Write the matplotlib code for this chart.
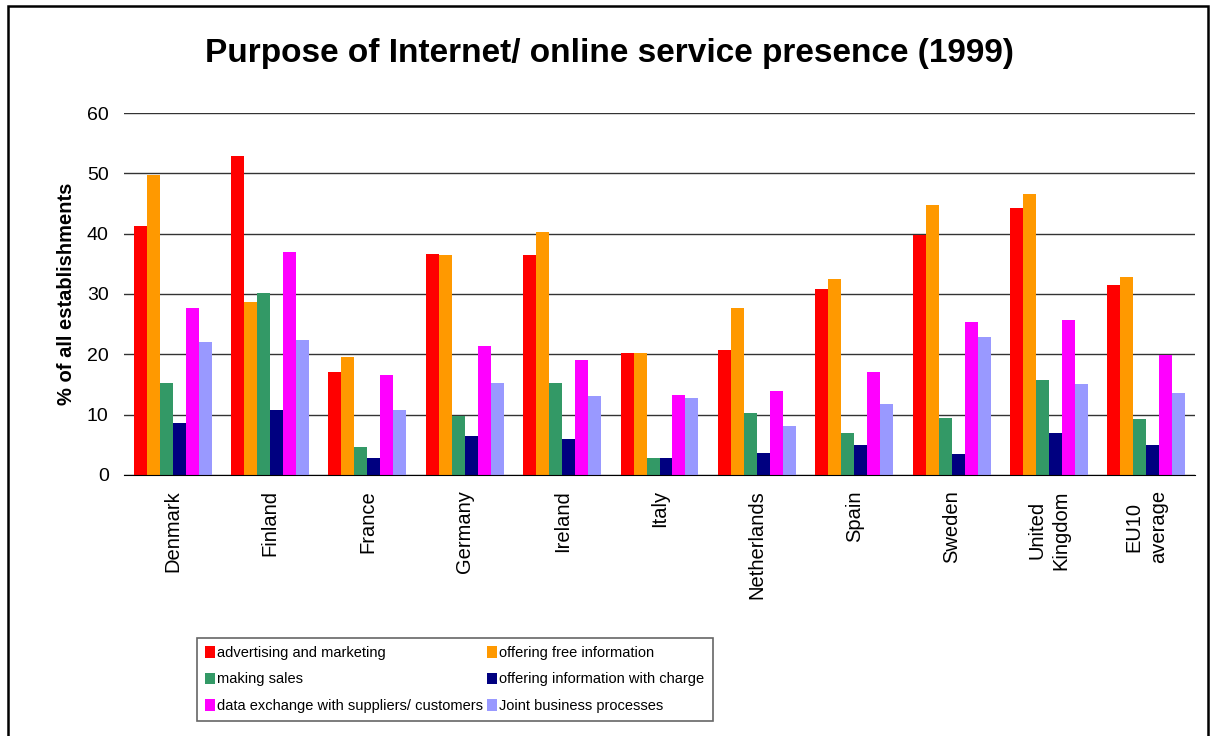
import numpy as np
import matplotlib
matplotlib.use("Agg")
import matplotlib.pyplot as plt
from matplotlib.patches import Rectangle, Patch

plt.rcParams['font.family'] = ['Liberation Sans', 'DejaVu Sans']

countries = ["Denmark", "Finland", "France", "Germany", "Ireland", "Italy",
             "Netherlands", "Spain", "Sweden", "United\nKingdom", "EU10\naverage"]

advertising = [41.2, 52.9, 17.0, 36.7, 36.5, 20.3, 20.8, 30.9, 39.8, 44.3, 31.5]
free_info = [49.8, 28.6, 19.6, 36.5, 40.2, 20.3, 27.7, 32.5, 44.8, 46.5, 32.9]
sales = [15.3, 30.2, 4.7, 9.7, 15.3, 2.9, 10.2, 6.9, 9.5, 15.8, 9.2]
charged_info = [8.7, 10.8, 2.9, 6.4, 6.0, 2.9, 3.7, 5.0, 3.5, 6.9, 5.0]
data_exchange = [27.6, 37.0, 16.6, 21.4, 19.0, 13.3, 14.0, 17.0, 25.4, 25.7, 19.9]
joint_processes = [22.1, 22.3, 10.8, 15.3, 13.1, 12.7, 8.2, 11.7, 22.8, 15.0, 13.6]

series = [advertising, free_info, sales, charged_info, data_exchange, joint_processes]
labels = ["advertising and marketing", "offering free information", "making sales",
          "offering information with charge", "data exchange with suppliers/ customers",
          "Joint business processes"]
colors = ["#FF0000", "#FF9900", "#339966", "#000080", "#FF00FF", "#9999FF"]

fig = plt.figure(figsize=(12.12, 7.36), dpi=100)
ax = fig.add_axes([124 / 1212, 1 - 475 / 736, (1195 - 124) / 1212, (475 - 113) / 736])

x = np.arange(len(countries))
w = 1 / 7.5
for i, (vals, col) in enumerate(zip(series, colors)):
    ax.bar(x + (i - 2.5) * w, vals, width=w, color=col, zorder=3)

ax.set_ylim(0, 60)
ax.set_xlim(-0.5, len(countries) - 0.5)
ax.set_yticks(range(0, 61, 10))
ax.yaxis.grid(True, color="#333333", linewidth=1, zorder=0)
for s in ["top", "right", "left"]:
    ax.spines[s].set_visible(False)
ax.spines["bottom"].set_color("black")
ax.spines["bottom"].set_zorder(4)
ax.tick_params(axis="both", length=0)
ax.tick_params(axis="y", labelsize=14, pad=11)
ax.set_xticks(x)
ax.set_xticklabels(countries, rotation=90, fontsize=14.5, va="top", ha="center",
                   multialignment="center", linespacing=1.35)
ax.tick_params(axis="x", pad=11)

ax.set_ylabel("% of all establishments", fontsize=14.5, fontweight="bold", labelpad=8)

fig.text(0.503, 1 - 62 / 736, "Purpose of Internet/ online service presence (1999)",
         fontsize=24, fontweight="bold", ha="center", va="baseline")

# legend filled row by row: reorder for matplotlib's column-wise layout
order = [0, 2, 4, 1, 3, 5]
handles = [Patch(facecolor=colors[k]) for k in order]
leg = fig.legend(handles, [labels[k] for k in order], ncol=2, loc="upper left",
                 bbox_to_anchor=(197 / 1212, 1 - 638 / 736),
                 fontsize=10.5,
                 frameon=True, fancybox=False, edgecolor="#404040",
                 handlelength=0.7, handleheight=0.85, handletextpad=0.15,
                 columnspacing=0.25, labelspacing=0.85, borderpad=0.55, borderaxespad=0)
leg.get_frame().set_linewidth(1.2)

fig.patches.append(Rectangle((8 / 1212, -0.05), 1200 / 1212, 1 - 6 / 736 + 0.05,
                             transform=fig.transFigure, fill=False,
                             edgecolor="black", linewidth=1.8))

fig.savefig("out.png", dpi=100)
